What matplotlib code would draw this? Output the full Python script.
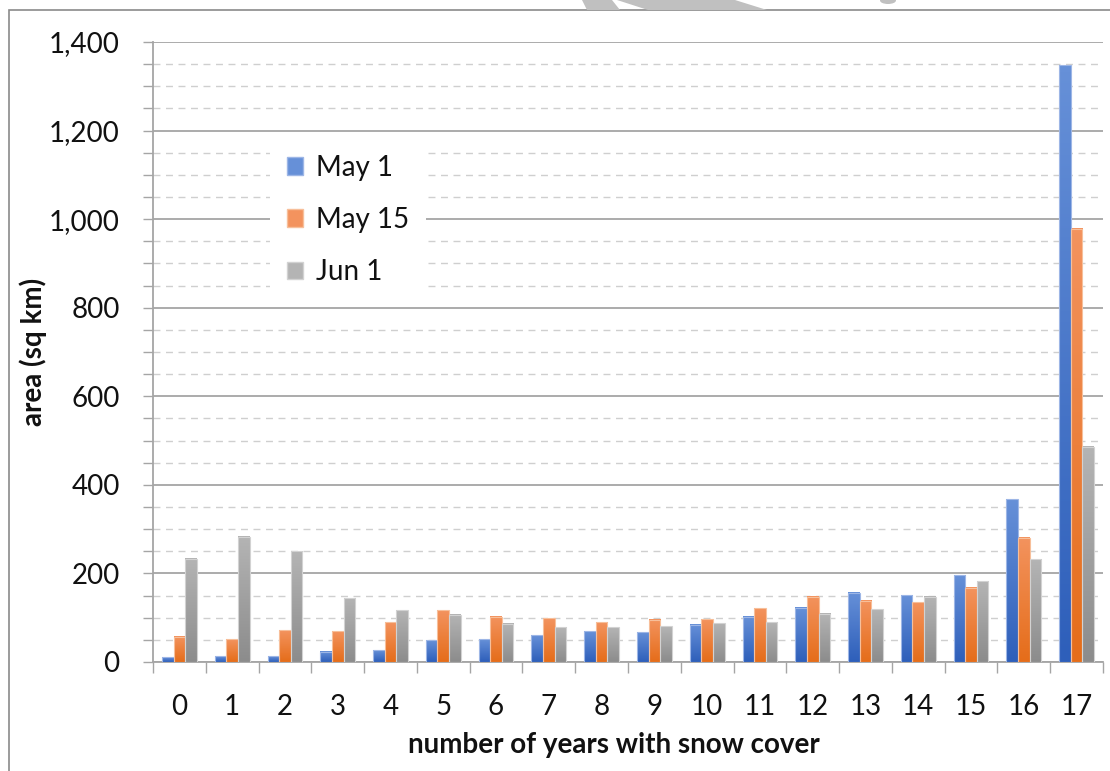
import numpy as np
import matplotlib
matplotlib.use("Agg")
import matplotlib.pyplot as plt
from matplotlib.patches import Rectangle, Patch, Polygon, Ellipse
from matplotlib.colors import LinearSegmentedColormap
from matplotlib.ticker import MultipleLocator, FuncFormatter

plt.rcParams["font.family"] = ["Lato", "DejaVu Sans"]

# Snow-cover frequency: area (sq km) by number of years with snow cover
years = list(range(18))
may1 = [11, 13, 13, 23, 27, 49, 51, 60, 70, 67, 84, 102, 123, 156, 151, 196, 367, 1348]
may15 = [57, 51, 72, 69, 90, 117, 102, 99, 90, 95, 97, 121, 147, 138, 135, 168, 281, 978]
jun1 = [233, 283, 250, 144, 117, 107, 86, 79, 79, 81, 88, 90, 109, 119, 147, 182, 232, 486]
series_names = ["May 1", "May 15", "Jun 1"]

# (top colour, bottom colour, edge colour) for each series' gradient fill
fills = [
    ("#6690d8", "#2e5fba", "#9db6e6"),
    ("#f3935e", "#e56d1a", "#f7bf9a"),
    ("#b4b4b4", "#8c8c8c", "#d2d2d2"),
]

W, H = 1110, 771
fig = plt.figure(figsize=(W / 100, H / 100), dpi=100)
ax = fig.add_axes([153 / W, (H - 662) / H, 950 / W, 620 / H])

bar_w = 0.22
offsets = [-bar_w, 0.0, bar_w]
grad = np.linspace(0, 1, 64).reshape(-1, 1)

for vals, off, (top_c, bot_c, edge_c) in zip([may1, may15, jun1], offsets, fills):
    cmap = LinearSegmentedColormap.from_list("g", [bot_c, top_c])
    for x, v in zip(years, vals):
        x0 = x + off - bar_w / 2
        ax.imshow(grad, cmap=cmap, extent=[x0, x0 + bar_w, 0, v], origin="lower",
                  aspect="auto", interpolation="bilinear", zorder=3)
        ax.add_patch(Rectangle((x0, 0), bar_w, v, facecolor="none",
                               edgecolor=edge_c, lw=0.8, zorder=4))

ax.set_xlim(-0.5, 17.5)
ax.set_ylim(0, 1400)

# y axis: majors every 200 (solid grid), minors every 50 (dashed grid)
ax.yaxis.set_major_locator(MultipleLocator(200))
ax.yaxis.set_minor_locator(MultipleLocator(50))
ax.yaxis.set_major_formatter(FuncFormatter(lambda v, p: f"{int(v):,}"))
ax.grid(axis="y", which="major", color="#a5a5a5", lw=1.3, zorder=1)
ax.grid(axis="y", which="minor", color="#cfcfcf", lw=1.0, ls=(0, (5, 4)), zorder=1)

# x axis: labels at category centres, ticks at category boundaries
ax.set_xticks(years)
ax.set_xticklabels([str(y) for y in years])
ax.set_xticks(np.arange(-0.5, 18, 1), minor=True)
ax.tick_params(axis="x", which="major", length=0, pad=23, labelsize=20, labelcolor="#111111")
ax.tick_params(axis="x", which="minor", length=8, width=1, color="#a5a5a5", direction="out")
ax.tick_params(axis="y", which="both", length=7, width=1, color="#a5a5a5", direction="out")
ax.tick_params(axis="y", which="major", pad=17, labelsize=20, labelcolor="#111111")

for s in ["top", "right"]:
    ax.spines[s].set_visible(False)
for s in ["left", "bottom"]:
    ax.spines[s].set_color("#a5a5a5")
    ax.spines[s].set_linewidth(1.3)
ax.set_axisbelow(True)

ax.set_xlabel("number of years with snow cover", fontsize=20, fontweight="bold", color="#111111")
ax.xaxis.set_label_coords(0.485, -0.113)
ax.set_ylabel("area (sq km)", fontsize=20, fontweight="bold", color="#111111")
ax.yaxis.set_label_coords(-0.112, 0.5)

handles = [Patch(facecolor=c[0], edgecolor=c[2]) for c in fills]
leg = ax.legend(handles, series_names, loc="center", bbox_to_anchor=(0.205, 0.713),
                fontsize=20, frameon=True, framealpha=1, edgecolor="none",
                facecolor="white", fancybox=False, handlelength=0.6, handleheight=0.6,
                handletextpad=0.45, labelspacing=0.95, borderpad=0.6)
for t in leg.get_texts():
    t.set_color("#111111")

# chart frame
fig.patches.append(Rectangle((9 / W, -0.1), 1.2, 1 - 10 / H + 0.1, transform=fig.transFigure,
                             facecolor="none", edgecolor="#8a8a8a", lw=1.2))

# grey arrow shape peeking in above the frame
def px(pts):
    return [(x / W, 1 - y / H) for x, y in pts]

fig.patches.append(Polygon(px([(582, 0), (612, 0), (620, 10), (587, 10)]),
                           transform=fig.transFigure, facecolor="#c0c0c0", edgecolor="none"))
fig.patches.append(Polygon(px([(617, 0), (735, 0), (767, 10), (648, 10)]),
                           transform=fig.transFigure, facecolor="#c0c0c0", edgecolor="none"))
fig.patches.append(Ellipse((888 / W, 1 - 0.5 / H), 16 / W, 7 / H,
                           transform=fig.transFigure, facecolor="#c0c0c0", edgecolor="none"))

fig.savefig("out.png", dpi=100, facecolor="white")
